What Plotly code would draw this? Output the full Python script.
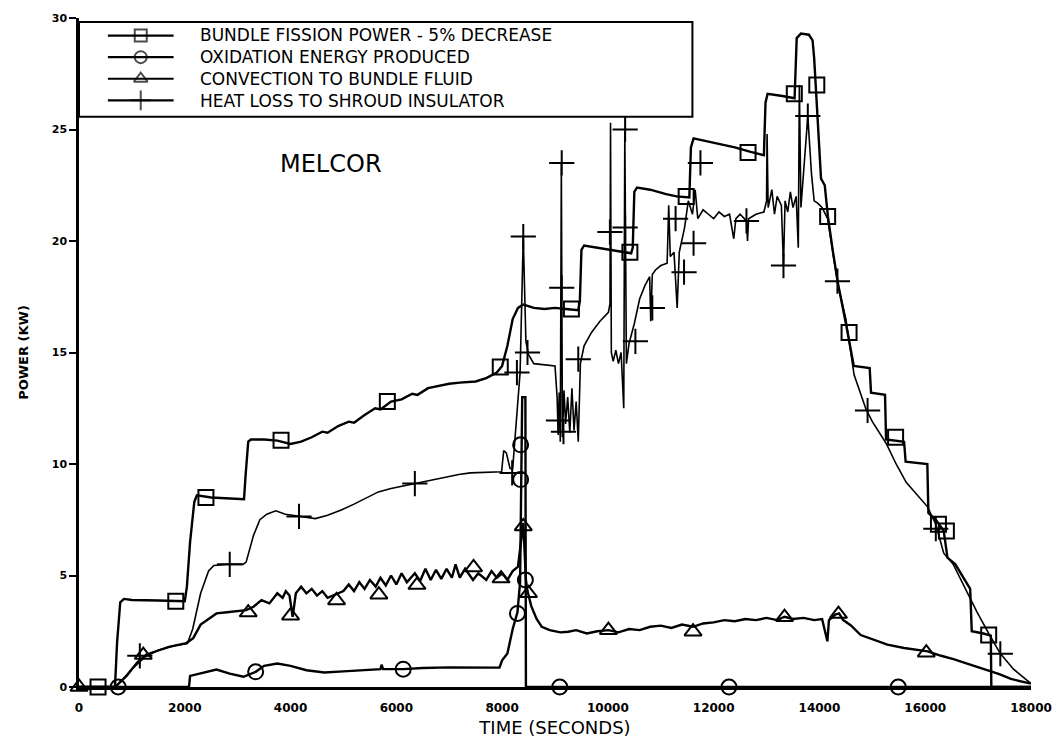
import plotly.graph_objects as go

# ---------------- data ----------------
x_ticks = [0, 2000, 4000, 6000, 8000, 10000, 12000, 14000, 16000, 18000]
y_ticks = [0, 5, 10, 15, 20, 25, 30]

legend_names = [
    "BUNDLE FISSION POWER - 5% DECREASE",
    "OXIDATION ENERGY PRODUCED",
    "CONVECTION TO BUNDLE FLUID",
    "HEAT LOSS TO SHROUD INSULATOR",
]

fission_t = [0, 680, 720, 780, 850, 1000, 1500, 2000, 2040, 2100, 2180, 2230, 2500, 2800, 3120, 3150, 3200, 3250,
             3500, 3750, 4000, 4200, 4400, 4600, 4700, 4900, 5100, 5200, 5400, 5600, 5700, 5900, 6100, 6300, 6400,
             6600, 6800, 7000, 7200, 7500, 7700, 7900, 8000, 8100, 8200, 8300, 8400, 8600, 8800, 9000, 9200, 9440,
             9470, 9500, 9550, 9800, 10100, 10440, 10470, 10500, 10550, 10800, 11100, 11300, 11540, 11570, 11620,
             11900, 12100, 12400, 12700, 12950, 12980, 13020, 13300, 13530, 13570, 13650, 13800, 13870, 13900,
             13965, 14030, 14100, 14160, 14250, 14350, 14500, 14650, 14950, 14975, 15240, 15260, 15600, 15630,
             16040, 16060, 16200, 16350, 16420, 16570, 16850, 16880, 17100, 17240, 17250, 18000]
fission_kw = [0, 0, 2.0, 3.8, 3.95, 3.9, 3.88, 3.85, 4.5, 6.5, 8.3, 8.6, 8.5, 8.45, 8.42, 9.5, 11.0, 11.1,
              11.1, 11.05, 10.9, 11.0, 11.2, 11.45, 11.4, 11.7, 11.9, 11.85, 12.2, 12.5, 12.45, 12.8, 12.9, 13.15, 13.1,
              13.4, 13.5, 13.6, 13.65, 13.7, 13.85, 14.1, 14.4, 15.3, 16.5, 17.0, 17.15, 17.0, 16.95, 17.0, 16.95, 16.9,
              17.3, 19.6, 19.8, 19.7, 19.6, 19.45, 19.7, 22.2, 22.4, 22.3, 22.1, 22.0, 21.95, 24.2, 24.6,
              24.45, 24.35, 24.2, 24.0, 23.85, 26.2, 26.6, 26.5, 26.4, 29.1, 29.3, 29.25, 29.0, 28.2,
              25.3, 22.8, 22.5, 21.1, 19.6, 18.1, 16.3, 14.4, 14.3, 13.2, 13.1, 11.1, 11.0, 10.1,
              10.0, 7.8, 7.5, 7.0, 5.8, 5.5, 4.4, 2.5, 2.4, 2.3, 0, 0]

heat_t = [0, 700, 1000, 1250, 1500, 1800, 2050, 2150, 2300, 2450, 2550, 2800, 3100, 3160, 3300, 3420, 3550, 3720,
          3900, 4160, 4470, 4700, 4970, 5200, 5450, 5660, 5900, 6100, 6350, 6600, 6900, 7180, 7400, 7800, 7990, 8030,
          8080, 8150, 8200, 8340, 8400, 8450, 8500, 8600, 8800, 9000, 9040, 9060, 9080, 9100, 9120, 9140, 9170, 9200,
          9240, 9280, 9320, 9360, 9400, 9440, 9480, 9550, 9690, 9850, 10010, 10040, 10050, 10065, 10100, 10150,
          10200, 10250, 10300, 10320, 10350, 10400, 10500, 10600, 10700, 10790, 10810, 10840, 10900, 11000, 11120,
          11150, 11180, 11250, 11310, 11350, 11450, 11520, 11600, 11650, 11700, 11800, 11900, 12000, 12100, 12200,
          12300, 12380, 12420, 12500, 12620, 12640, 12660, 12800, 12950, 13000, 13010, 13030, 13100, 13150, 13200,
          13280, 13320, 13350, 13400, 13450, 13500, 13560, 13600, 13620, 13650, 13700, 13780, 13850, 13900, 13965,
          14050, 14155, 14250, 14345, 14500, 14655, 14880, 15000, 15260, 15450, 15640, 15850, 16040, 16200, 16350,
          16530, 16700, 16850, 16980, 17200, 17420, 17670, 17850, 18000]
heat_kw = [0, 0, 0.8, 1.35, 1.65, 1.85, 1.95, 2.6, 4.2, 5.2, 5.45, 5.5, 5.5, 5.6, 6.8, 7.5, 7.75, 7.9,
           7.75, 7.65, 7.55, 7.7, 7.95, 8.2, 8.5, 8.75, 8.9, 9.0, 9.12, 9.25, 9.4, 9.53, 9.6, 9.65, 9.65, 10.6,
           10.5, 9.8, 9.8, 14.1, 20.2, 15.5, 14.9, 14.5, 14.45, 14.4, 13.0, 11.3, 13.2, 11.0, 23.5, 11.2, 13.3, 11.8,
           13.0, 11.4, 13.4, 11.5, 12.8, 11.0, 14.5, 15.3, 15.9, 16.4, 16.8, 17.2, 25.3, 15.0, 14.6, 15.1,
           14.5, 15.0, 12.5, 24.9, 14.5, 15.4, 16.3, 17.4, 18.0, 18.4, 16.4, 18.5, 18.7, 18.9, 19.0,
           21.6, 19.3, 19.5, 17.0, 19.5, 20.6, 21.8, 21.2, 22.3, 21.0, 21.4, 21.2, 21.0, 21.3, 21.1,
           21.2, 20.1, 21.0, 21.2, 20.9, 20.0, 21.0, 21.2, 21.3, 21.8, 24.8, 21.5, 22.3, 21.2, 22.0,
           21.6, 18.9, 21.8, 21.3, 22.2, 21.5, 22.0, 19.7, 27.0, 21.5, 23.0, 25.6, 23.0, 21.8, 21.7,
           21.5, 21.0, 19.5, 18.1, 16.5, 14.0, 12.46, 11.9, 10.93, 10.0, 9.18, 8.6, 8.09, 7.3, 6.0,
           5.5, 4.7, 4.0, 3.36, 2.4, 1.5, 0.8, 0.45, 0.15]

conv_t = [0, 680, 900, 1100, 1275, 1460, 1700, 2030, 2160, 2300, 2470, 2600, 2800, 3000, 3160, 3300, 3450, 3600,
          3750, 3850, 3910, 3980, 4040, 4100, 4200, 4300, 4400, 4500, 4600, 4700, 4860, 5000, 5100, 5200, 5300, 5400,
          5500, 5610, 5700, 5800, 5900, 6000, 6100, 6200, 6350, 6450, 6550, 6650, 6750, 6850, 6950, 7050, 7120, 7200,
          7300, 7450, 7550, 7700, 7800, 7900, 8000, 8100, 8200, 8300, 8400, 8450, 8480, 8550, 8650, 8750, 8900, 9100,
          9250, 9400, 9600, 9800, 10010, 10200, 10400, 10600, 10800, 11000, 11200, 11400, 11610, 11800, 12000, 12200,
          12400, 12600, 12800, 13000, 13200, 13340, 13500, 13700, 13900, 14050, 14150, 14180, 14300, 14370, 14450,
          14590, 14780, 15000, 15285, 15600, 16050, 16300, 16550, 16850, 17100, 17400, 17620, 18000]
conv_kw = [0, 0, 0.5, 1.1, 1.46, 1.6, 1.8, 1.97, 2.19, 2.8, 3.1, 3.3, 3.35, 3.4, 3.45, 3.6, 3.9, 3.75,
           4.2, 4.0, 4.3, 4.1, 3.15, 4.2, 4.5, 4.2, 4.4, 4.1, 4.3, 4.0, 4.15, 4.3, 4.6, 4.3, 4.7, 4.4,
           4.8, 4.5, 4.9, 4.55, 5.0, 4.6, 5.1, 4.7, 5.1, 4.75, 5.3, 4.8, 5.25, 4.85, 5.3, 4.9, 5.5, 4.9,
           5.3, 4.8, 5.1, 4.8, 5.2, 4.9, 5.1, 4.8, 5.2, 5.4, 7.36, 4.8, 4.3, 3.64, 3.06, 2.7, 2.55, 2.45,
           2.48, 2.55, 2.4, 2.5, 2.55, 2.45, 2.6, 2.55, 2.7, 2.75, 2.65, 2.8, 2.7, 2.85, 2.9, 3.0,
           2.95, 3.05, 3.0, 3.1, 3.0, 3.15, 3.05, 3.1, 3.0, 3.05, 2.05, 3.0, 3.25, 3.3, 3.0,
           2.77, 2.33, 2.15, 1.9, 1.75, 1.6, 1.4, 1.24, 1.0, 0.8, 0.58, 0.36, 0.15]

oxid_t = [0, 2080, 2100, 2300, 2600, 2850, 3110, 3340, 3500, 3750, 4000, 4300, 4640, 5000, 5400, 5700, 5720, 5750,
          6130, 6500, 7000, 7500, 7950, 8000, 8100, 8200, 8290, 8340, 8360, 8380, 8440, 8450, 18000]
oxid_kw = [0, 0, 0.5, 0.6, 0.78, 0.6, 0.46, 0.68, 0.95, 1.05, 0.95, 0.75, 0.65, 0.7, 0.75, 0.8, 1.0, 0.8,
           0.8, 0.85, 0.88, 0.86, 0.87, 1.2, 1.5, 2.6, 3.35, 4.7, 9.3, 13.0, 13.0, 0, 0]

# symbol positions along each curve
fission_mk_t = [360, 1830, 2400, 3820, 5830, 7965, 9310, 10416, 11480, 12650, 13525, 13950, 14155, 14560, 15440,
                16250, 16400, 17200]
fission_mk_kw = [0, 3.85, 8.5, 11.06, 12.8, 14.35, 16.95, 19.5, 22.0, 23.97, 26.6, 27.0, 21.1, 15.9, 11.2,
                 7.3, 7.0, 2.33]
oxid_mk_t = [740, 3340, 6130, 8290, 8440, 8350, 8350, 9090, 12290, 15490]
oxid_mk_kw = [0, 0.68, 0.8, 3.3, 4.8, 9.3, 10.86, 0, 0, 0]
conv_mk_t = [0, 1215, 3200, 4000, 4870, 5670, 6390, 7460, 7980, 8400, 8500, 10010, 11610, 13340, 14360, 16020]
conv_mk_kw = [0, 1.43, 3.34, 3.2, 3.88, 4.14, 4.57, 5.36, 4.86, 7.2, 4.2, 2.55, 2.48, 3.13, 3.27, 1.54]
heat_mk_t = [1150, 2850, 4160, 6350, 8190, 8280, 8400, 8480, 9065, 9160, 9127, 9127, 9440, 10038, 10326, 10326,
             10520, 10840, 11280, 11440, 11620, 11750, 12620, 13320, 13780, 14340, 14910, 16200, 17420]
heat_mk_kw = [1.4, 5.5, 7.65, 9.12, 9.6, 14.1, 20.2, 15.0, 11.95, 11.45, 17.9, 23.5, 14.7, 20.4, 25.0, 20.6,
              15.5, 17.0, 21.0, 18.6, 19.9, 23.5, 20.9, 18.9, 25.6, 18.2, 12.4, 7.1, 1.49]

for a, b in [(fission_t, fission_kw), (heat_t, heat_kw), (conv_t, conv_kw), (oxid_t, oxid_kw),
             (fission_mk_t, fission_mk_kw), (oxid_mk_t, oxid_mk_kw), (conv_mk_t, conv_mk_kw),
             (heat_mk_t, heat_mk_kw)]:
    assert len(a) == len(b), (len(a), len(b))

# ---------------- figure ----------------
FONT = "DejaVu Sans"
INK = "black"
W, H = 1064, 748
ML, MR, MT, MB = 79, 29, 15, 48

symbols = ["square-open", "circle-open", "triangle-up-open", "cross-thin-open"]
plot_sizes = [15, 15, 15, 18]
key_sizes = [12, 12, 12, 14]
line_widths = [2.4, 2.4, 2.4, 1.6]
curves = [(fission_t, fission_kw), (oxid_t, oxid_kw), (conv_t, conv_kw), (heat_t, heat_kw)]
marks = [(fission_mk_t, fission_mk_kw), (oxid_mk_t, oxid_mk_kw), (conv_mk_t, conv_mk_kw), (heat_mk_t, heat_mk_kw)]

fig = go.Figure()
for i, name in enumerate(legend_names):
    t, p = curves[i]
    mt, mp = marks[i]
    fig.add_trace(go.Scatter(x=t, y=p, mode="lines", name=name, line=dict(color=INK, width=line_widths[i]),
                             showlegend=False, hoverinfo="skip"))
    fig.add_trace(go.Scatter(x=mt, y=mp, mode="markers", name=name, cliponaxis=False,
                             marker=dict(symbol=symbols[i], size=plot_sizes[i], color=INK,
                                         line=dict(color=INK, width=2)),
                             showlegend=False, hoverinfo="skip"))

fig.add_annotation(x=4770, y=23.45, text="MELCOR", showarrow=False,
                   font=dict(family=FONT, size=24, color=INK))

# ---- key box in the upper-left corner, placed in fractions of the plot area ----
def fx(px):
    return (px - ML) / (W - ML - MR)

def fy(py):
    return (H - MB - py) / (H - MT - MB)

KEY_FONT = 17
pitch = KEY_FONT * 1.3
row_px = [33 + pitch * k for k in range(4)]
key_rows = [fy(r) for r in row_px]
key_x = [fx(108), fx(141), fx(174)]

for i, ry in enumerate(key_rows):
    fig.add_trace(go.Scatter(x=key_x, y=[ry, ry, ry], xaxis="x3", yaxis="y3", mode="lines+markers",
                             cliponaxis=False, showlegend=False, hoverinfo="skip",
                             line=dict(color=INK, width=2.2),
                             marker=dict(symbol=symbols[i], size=[0, key_sizes[i], 0], color=INK,
                                         line=dict(color=INK, width=2))))

fig.add_annotation(xref="paper", yref="paper", x=fx(198), y=fy((row_px[0] + row_px[3]) / 2),
                   xanchor="left", yanchor="middle", align="left", showarrow=False,
                   text="<br>".join(legend_names),
                   font=dict(family=FONT, size=KEY_FONT, color=INK))

shapes = [dict(type="rect", xref="paper", yref="paper", x0=0.0, x1=fx(695), y0=fy(116), y1=fy(19),
               line=dict(color=INK, width=2), fillcolor="white", layer="below")]

fig.update_layout(
    width=W, height=H,
    margin=dict(l=ML, r=MR, t=MT, b=MB),
    paper_bgcolor="white", plot_bgcolor="rgba(0,0,0,0)",
    font=dict(family=FONT, color=INK),
    showlegend=False,
    shapes=shapes,
    xaxis=dict(range=[0, 18000], tickvals=x_ticks, ticktext=[str(v) for v in x_ticks],
               showgrid=False, zeroline=False, showline=True, linecolor=INK, linewidth=2.5,
               ticks="", ticklabelstandoff=8,
               tickfont=dict(family=FONT, size=12, color=INK, weight="bold"),
               title=dict(text="TIME (SECONDS)", font=dict(family=FONT, size=18, color=INK), standoff=8)),
    yaxis=dict(range=[0, 30], tickvals=y_ticks, ticktext=[str(v) for v in y_ticks],
               showgrid=False, zeroline=False, showline=True, linecolor=INK, linewidth=2.5,
               ticks="outside", ticklen=7, tickwidth=2, tickcolor=INK,
               tickfont=dict(family=FONT, size=11, color=INK, weight="bold"),
               title=dict(text="POWER (KW)", font=dict(family=FONT, size=13, color=INK, weight="bold"),
                          standoff=21)),
    xaxis2=dict(range=[0, 18000], overlaying="x", side="top", anchor="y", tickvals=x_ticks,
                showticklabels=False, ticks="inside", ticklen=5, tickwidth=1.5, tickcolor=INK,
                showline=True, linecolor=INK, linewidth=2.5, showgrid=False, zeroline=False),
    yaxis2=dict(range=[0, 30], overlaying="y", side="right", anchor="x", tickvals=y_ticks,
                showticklabels=False, ticks="inside", ticklen=7, tickwidth=2, tickcolor=INK,
                showline=True, linecolor=INK, linewidth=2.5, showgrid=False, zeroline=False),
    xaxis3=dict(domain=[0, 1], range=[0, 1], anchor="y3", visible=False, fixedrange=True),
    yaxis3=dict(domain=[0, 1], range=[0, 1], anchor="x3", visible=False, fixedrange=True),
)

fig.write_html("out.html")
